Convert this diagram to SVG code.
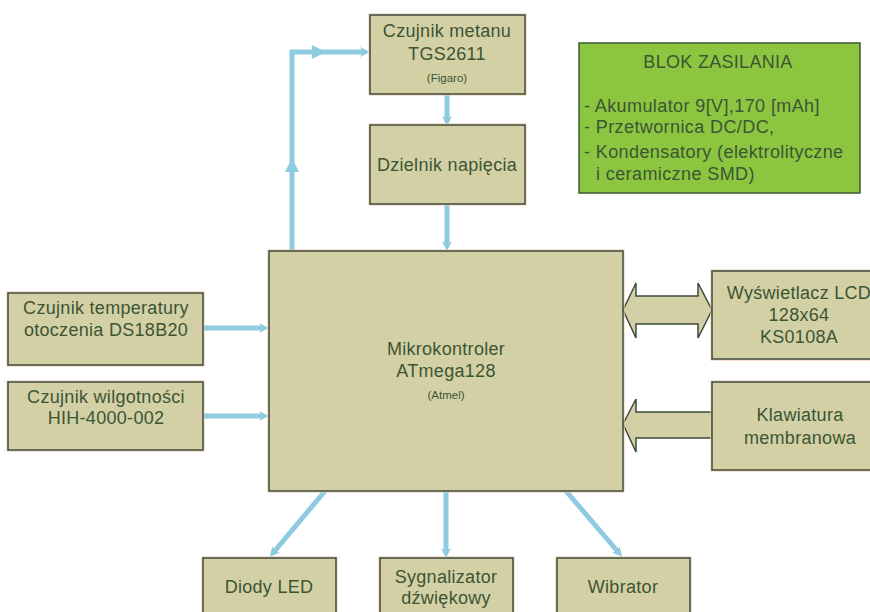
<svg xmlns="http://www.w3.org/2000/svg" width="870" height="612" viewBox="0 0 870 612">
<style>
.box{fill:#d3d0a6;stroke:#3b4b3a;stroke-width:1.5}
.glow{fill:none;stroke:#f6cdb8;stroke-width:1.2}
.t{font-family:"Liberation Sans",Arial,sans-serif;font-size:18px;letter-spacing:0.3px;fill:#3c5534;text-anchor:middle}
.s{font-family:"Liberation Sans",Arial,sans-serif;font-size:11.5px;fill:#3c5534;text-anchor:middle}
.c{fill:none;stroke:#8ecbe0;stroke-width:5}
.blk{fill:#d3d0a6;stroke:#3b4b3a;stroke-width:1.5;stroke-linejoin:miter}
.ah{fill:#8ecbe0}
</style>
<defs>
<marker id="dot" markerUnits="userSpaceOnUse" markerWidth="12" markerHeight="12" refX="6" refY="6" orient="auto">
<path d="M1,1 L11,6 L1,11 L4,6 Z" fill="#8ecbe0"/>
</marker>
</defs>
<rect width="870" height="612" fill="#ffffff"/>

<g id="connectors">
<path class="c" d="M447,94 V121" marker-end="url(#dot)"/>
<path class="c" d="M447,204 V246" marker-end="url(#dot)"/>
<path class="c" d="M292,251 V52 H365" marker-end="url(#dot)"/>
<path class="ah" d="M292,158 L299,172 L285,172 Z"/>
<path class="ah" d="M326,52 L312,45 L312,59 Z"/>
<path class="c" d="M203,328 H264" marker-end="url(#dot)"/>
<path class="c" d="M203,416 H264" marker-end="url(#dot)"/>
<path class="c" d="M325,491 L273,553" marker-end="url(#dot)"/>
<path class="c" d="M446,491 V553" marker-end="url(#dot)"/>
<path class="c" d="M566,491 L619,553" marker-end="url(#dot)"/>
<path class="blk" d="M623,310 L636,283 V296 H698 V283 L712,310 L698,338 V324 H636 V338 Z"/>
<path class="blk" d="M623,424 L636,399 V412 H712 V438 H636 V452 Z"/>
</g>

<g id="czujnik-metanu">
<rect class="glow" x="369" y="14" width="157" height="81"/>
<rect class="box" x="370" y="15" width="155" height="79"/>
<text class="t" x="447" y="37">Czujnik metanu</text>
<text class="t" x="447" y="60">TGS2611</text>
<text class="s" x="447" y="82">(Figaro)</text>
</g>

<g id="dzielnik">
<rect class="glow" x="369" y="124" width="157" height="81"/>
<rect class="box" x="370" y="125" width="155" height="79"/>
<text class="t" x="447" y="171">Dzielnik napięcia</text>
</g>

<g id="blok-zasilania">
<rect x="579" y="43" width="281" height="150" fill="#8cc540" stroke="#3b5a2e" stroke-width="1.5"/>
<text class="t" x="718" y="68">BLOK ZASILANIA</text>
<g style="font-family:'Liberation Sans',Arial,sans-serif;font-size:18px;letter-spacing:0.4px;fill:#3c5534">
<text x="584" y="112">- Akumulator 9[V],170 [mAh]</text>
<text x="584" y="133">- Przetwornica DC/DC,</text>
<text x="584" y="158">- Kondensatory (elektrolityczne</text>
<text x="596" y="180">i ceramiczne SMD)</text>
</g>
</g>

<g id="mikrokontroler">
<rect class="glow" x="268" y="250" width="356" height="242"/>
<rect class="box" x="269" y="251" width="354" height="240"/>
<text class="t" x="446" y="355">Mikrokontroler</text>
<text class="t" x="446" y="377">ATmega128</text>
<text class="s" x="446" y="399">(Atmel)</text>
</g>

<g id="czujnik-temperatury">
<rect class="glow" x="7" y="292" width="197" height="74"/>
<rect class="box" x="8" y="293" width="195" height="72"/>
<text class="t" x="106" y="314">Czujnik temperatury</text>
<text class="t" x="106" y="336">otoczenia DS18B20</text>
</g>

<g id="czujnik-wilgotnosci">
<rect class="glow" x="7" y="381" width="197" height="70"/>
<rect class="box" x="8" y="382" width="195" height="68"/>
<text class="t" x="106" y="403">Czujnik wilgotności</text>
<text class="t" x="106" y="424">HIH-4000-002</text>
</g>

<g id="lcd">
<rect class="glow" x="711" y="270" width="170" height="90"/>
<rect class="box" x="712" y="271" width="168" height="88"/>
<text class="t" x="799" y="299">Wyświetlacz LCD</text>
<text class="t" x="799" y="321">128x64</text>
<text class="t" x="799" y="343">KS0108A</text>
</g>

<g id="klawiatura">
<rect class="glow" x="711" y="381" width="170" height="90"/>
<rect class="box" x="712" y="382" width="168" height="88"/>
<text class="t" x="800" y="421">Klawiatura</text>
<text class="t" x="800" y="444">membranowa</text>
</g>

<g id="diody-led">
<rect class="glow" x="202" y="557" width="135" height="70"/>
<rect class="box" x="203" y="558" width="133" height="68"/>
<text class="t" x="269" y="593">Diody LED</text>
</g>

<g id="sygnalizator">
<rect class="glow" x="379" y="557" width="135" height="70"/>
<rect class="box" x="380" y="558" width="133" height="68"/>
<text class="t" x="446" y="583">Sygnalizator</text>
<text class="t" x="446" y="604">dźwiękowy</text>
</g>

<g id="wibrator">
<rect class="glow" x="556" y="557" width="135" height="70"/>
<rect class="box" x="557" y="558" width="133" height="68"/>
<text class="t" x="623" y="593">Wibrator</text>
</g>
</svg>
